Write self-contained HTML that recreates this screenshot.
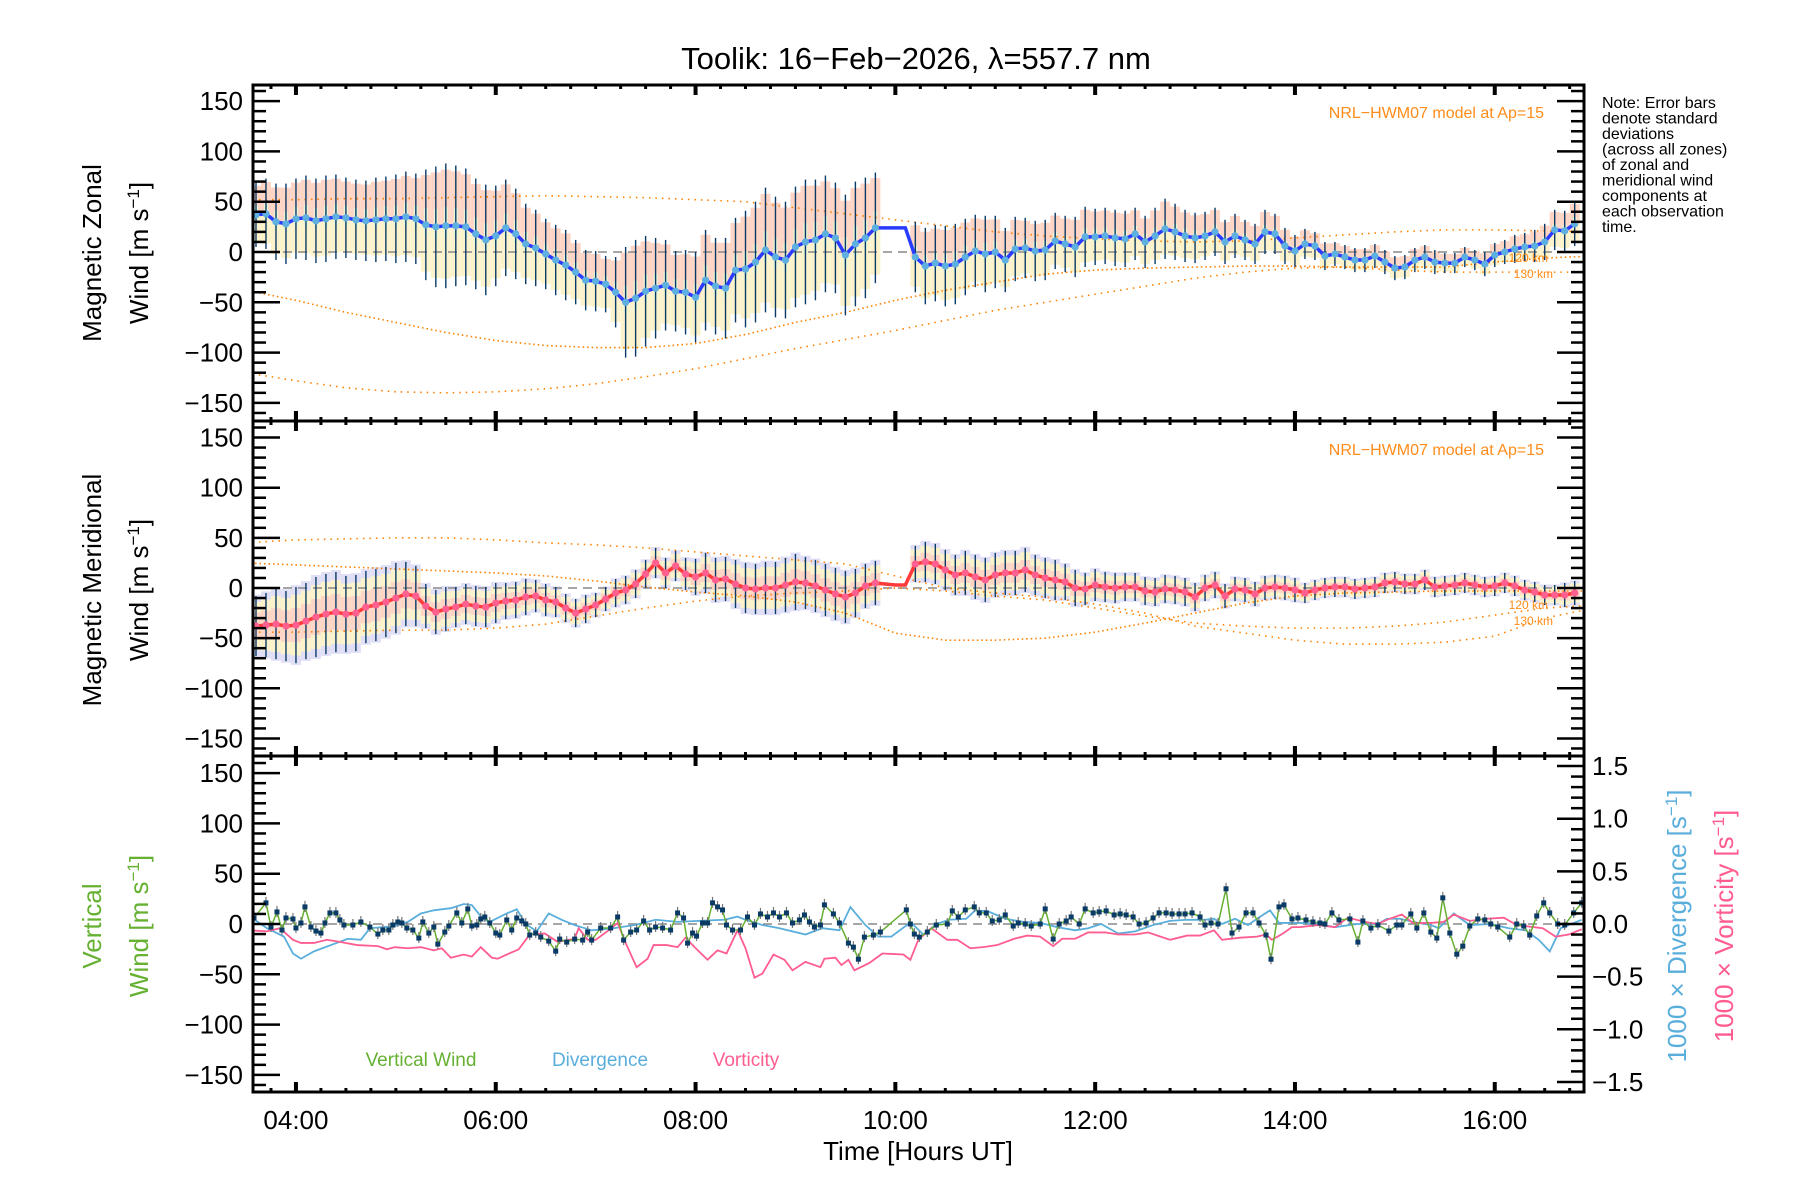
<!DOCTYPE html>
<html><head><meta charset="utf-8"><style>
html,body{margin:0;padding:0;background:#fff;}
svg{display:block;font-family:"Liberation Sans",sans-serif;}
</style></head><body>
<svg id="chart" width="1800" height="1200" viewBox="0 0 1800 1200" xmlns="http://www.w3.org/2000/svg">
<rect x="0" y="0" width="1800" height="1200" fill="#fff"/>
<text x="916" y="69" font-size="31" text-anchor="middle">Toolik: 16−Feb−2026, λ=557.7 nm</text>
<g id="layers"></g>
<g font-size="16" fill="#000">
<text x="1602" y="108">Note: Error bars</text>
<text x="1602" y="123.5">denote standard</text>
<text x="1602" y="139">deviations</text>
<text x="1602" y="154.5">(across all zones)</text>
<text x="1602" y="170">of zonal and</text>
<text x="1602" y="185.5">meridional wind</text>
<text x="1602" y="201">components at</text>
<text x="1602" y="216.5">each observation</text>
<text x="1602" y="232">time.</text>
</g>
<text x="1544" y="118" font-size="16" fill="#ff8c1a" text-anchor="end">NRL−HWM07 model at Ap=15</text>
<text x="1544" y="455" font-size="16" fill="#ff8c1a" text-anchor="end">NRL−HWM07 model at Ap=15</text>
<text x="1548" y="262" font-size="12" fill="#ff8c1a" text-anchor="end">120 km</text>
<text x="1553" y="278" font-size="12" fill="#ff8c1a" text-anchor="end">130 km</text>
<text x="1548" y="609" font-size="12" fill="#ff8c1a" text-anchor="end">120 km</text>
<text x="1553" y="625" font-size="12" fill="#ff8c1a" text-anchor="end">130 km</text>
<text transform="translate(101,253) rotate(-90)" font-size="26" text-anchor="middle">Magnetic Zonal</text>
<text transform="translate(148,253) rotate(-90)" font-size="26" text-anchor="middle">Wind [m s<tspan baseline-shift="super" font-size="17">−1</tspan>]</text>
<text transform="translate(101,590) rotate(-90)" font-size="26" text-anchor="middle">Magnetic Meridional</text>
<text transform="translate(148,590) rotate(-90)" font-size="26" text-anchor="middle">Wind [m s<tspan baseline-shift="super" font-size="17">−1</tspan>]</text>
<text transform="translate(101,926) rotate(-90)" font-size="26" text-anchor="middle" fill="#66b032">Vertical</text>
<text transform="translate(148,926) rotate(-90)" font-size="26" text-anchor="middle" fill="#66b032">Wind [m s<tspan baseline-shift="super" font-size="17">−1</tspan>]</text>
<text transform="translate(1686,926) rotate(-90)" font-size="26" text-anchor="middle" fill="#5aaedc">1000 × Divergence [s<tspan baseline-shift="super" font-size="17">−1</tspan>]</text>
<text transform="translate(1733,926) rotate(-90)" font-size="26" text-anchor="middle" fill="#ff5c8f">1000 × Vorticity [s<tspan baseline-shift="super" font-size="17">−1</tspan>]</text>
<text x="421" y="1066" font-size="19" fill="#66b032" text-anchor="middle">Vertical Wind</text>
<text x="600" y="1066" font-size="19" fill="#5aaedc" text-anchor="middle">Divergence</text>
<text x="746" y="1066" font-size="19" fill="#ff5c8f" text-anchor="middle">Vorticity</text>
<text x="918" y="1160" font-size="26" text-anchor="middle">Time [Hours UT]</text>
</svg>
<script>
// ---- data ----
const zonalMean=[37,38,30,28,33,34,31,33,35,34,32,31,32,33,33,35,33,27,25,26,26,25,18,12,16,24,18,8,4,-2,-8,-13,-20,-28,-29,-32,-40,-50,-46,-39,-36,-33,-39,-40,-45,-28,-34,-36,-18,-17,-10,2,-5,-8,5,10,12,18,14,-3,8,14,24,24,24,24,
-5,-14,-11,-14,-12,-5,1,-2,0,-8,3,4,1,2,11,8,5,15,15,16,14,13,18,10,16,23,20,16,14,16,20,10,16,12,8,20,18,6,1,8,6,-4,-2,-5,-8,-8,-4,-10,-16,-15,-8,-5,-10,-11,-11,-5,-8,-12,-3,0,3,5,6,10,22,21,28];
const zonalStd=[32,35,38,40,40,42,42,43,42,40,40,40,42,42,44,45,45,55,60,62,60,58,55,55,50,48,45,40,38,35,35,35,32,30,30,28,35,55,58,55,50,45,40,42,45,50,48,50,52,58,60,62,60,58,60,62,60,58,55,60,62,60,55,0,0,0,
35,38,38,40,40,38,36,38,36,32,32,30,30,30,28,28,30,30,28,28,28,28,26,26,28,30,28,26,25,24,24,22,22,20,20,22,20,18,16,15,14,14,12,12,12,12,12,12,12,12,12,12,12,10,10,10,10,12,12,12,14,14,16,18,20,20,22];
const meridMean=[-38,-37,-36,-38,-37,-33,-29,-26,-24,-26,-25,-19,-17,-14,-10,-6,-8,-18,-24,-21,-19,-16,-18,-19,-15,-13,-12,-9,-8,-12,-14,-20,-25,-21,-17,-11,-5,-2,4,14,25,15,22,14,11,15,8,9,4,0,-1,0,0,3,6,5,2,-2,-6,-9,-5,2,5,4,3,3,
24,26,24,18,13,15,11,8,13,15,15,18,13,10,8,6,0,-1,3,1,0,1,1,-3,-4,-1,-2,-4,-9,0,3,-8,-1,-2,-6,0,1,0,-2,-5,-2,0,1,1,-1,0,1,5,6,4,4,8,1,2,3,5,3,1,2,5,2,-2,-4,-7,-7,-7,-5];
const meridStd=[30,32,35,35,38,38,40,40,40,38,38,36,36,35,35,32,30,22,22,22,20,20,20,20,20,18,18,18,16,16,15,14,14,14,12,12,14,14,14,14,15,15,15,16,18,20,22,22,24,25,25,26,26,27,28,26,26,26,26,26,24,22,22,0,0,0,
18,20,20,20,20,22,22,22,22,22,22,22,20,20,20,18,18,16,16,15,15,14,14,14,14,14,14,14,14,13,13,12,12,12,12,12,12,12,12,10,10,10,10,10,10,10,10,10,10,10,10,10,10,10,10,10,10,10,10,10,10,10,10,10,10,12,12];
const modelHours=[3.5,4,4.5,5,5.5,6,6.5,7,7.5,8,8.5,9,9.5,10,10.5,11,11.5,12,12.5,13,13.5,14,14.5,15,15.5,16,16.5,17];
const zonalModelA=[52,52,53,53,54,55,56,55,54,52,50,44,38,32,26,20,16,13,11,10,11,14,17,20,22,22,21,20];
const zonalModelB=[-38,-48,-60,-70,-80,-88,-93,-95,-95,-91,-82,-70,-60,-48,-38,-30,-22,-18,-16,-15,-14,-14,-15,-15,-15,-10,-6,-4];
const zonalModelC=[-120,-128,-135,-139,-140,-139,-136,-131,-124,-116,-106,-96,-87,-78,-68,-58,-50,-42,-34,-26,-20,-16,-15,-18,-20,-20,-20,-20];
const meridModelA=[45,48,49,50,50,48,45,43,40,36,32,28,24,12,0,-5,-9,-16,-25,-38,-45,-52,-56,-56,-54,-48,-30,-20];
const meridModelB=[25,23,21,19,17,15,12,7,1,-4,-8,-14,-25,-45,-52,-52,-50,-44,-35,-25,-15,-8,-5,-4,-3,-3,-3,-3];
const meridModelC=[-44,-44,-43,-42,-42,-40,-36,-28,-20,-13,-8,-5,-3,0,-3,-8,-12,-20,-28,-35,-38,-40,-40,-38,-34,-27,-20,-17];
const vertHours=[3.58,3.70,3.75,3.81,3.86,3.90,3.97,4.00,4.05,4.09,4.15,4.20,4.25,4.29,4.34,4.40,4.44,4.48,4.57,4.65,4.74,4.82,4.87,4.93,4.97,5.02,5.06,5.11,5.17,5.23,5.27,5.33,5.38,5.42,5.49,5.53,5.61,5.66,5.72,5.76,5.81,5.85,5.89,5.94,6.00,6.04,6.11,6.16,6.21,6.26,6.30,6.34,6.40,6.45,6.53,6.60,6.64,6.71,6.79,6.87,6.92,6.96,7.05,7.15,7.22,7.28,7.35,7.41,7.48,7.54,7.60,7.67,7.75,7.82,7.88,7.92,7.97,8.01,8.07,8.12,8.17,8.22,8.27,8.31,8.37,8.45,8.52,8.59,8.65,8.72,8.78,8.84,8.91,8.97,9.04,9.09,9.14,9.19,9.25,9.29,9.38,9.44,9.53,9.58,9.63,9.69,9.78,9.85,10.11,
10.15,10.19,10.24,10.32,10.41,10.52,10.57,10.63,10.70,10.79,10.84,10.91,10.97,11.04,11.10,11.18,11.23,11.30,11.36,11.45,11.50,11.58,11.64,11.71,11.76,11.84,11.90,11.98,12.04,12.11,12.19,12.25,12.31,12.38,12.44,12.51,12.58,12.64,12.71,12.77,12.84,12.90,12.97,13.05,13.10,13.16,13.23,13.31,13.37,13.44,13.51,13.58,13.64,13.71,13.76,13.84,13.89,13.97,14.03,14.11,14.18,14.25,14.30,14.37,14.44,14.55,14.63,14.68,14.76,14.83,14.94,15.02,15.07,15.16,15.22,15.29,15.36,15.42,15.48,15.55,15.62,15.68,15.75,15.83,15.90,15.96,16.03,16.15,16.22,16.29,16.35,16.42,16.49,16.55,16.63,16.70,16.79,16.87];
const vertWind=[6,21,-3,12,-6,6,5,-4,1,17,-3,-7,-9,1,11,11,4,-1,-1,2,-3,-10,-6,-6,-1,2,1,-4,-6,-14,2,-9,-3,-20,-8,-2,11,1,15,-2,-1,5,7,1,-9,-11,4,-6,6,3,0,-11,-9,-13,-17,-27,-15,-18,-15,-16,-8,-16,-4,-4,7,-16,-8,-6,3,-6,-3,-4,-6,11,6,-19,-9,-12,1,1,21,17,14,-1,-6,-6,7,-1,10,7,11,7,11,1,4,9,2,-3,-1,19,10,1,-19,-23,-35,-13,-11,-8,14,
0,-10,-13,-8,-1,0,13,7,14,17,11,11,3,4,9,-2,1,0,-2,0,15,-15,0,3,7,0,15,11,12,13,9,10,9,7,0,1,6,11,11,10,10,10,11,7,-1,1,0,35,-9,-3,11,11,1,-11,-35,17,19,5,6,4,2,1,0,11,4,5,-18,3,-4,-1,-7,-1,-1,10,-4,11,-8,-14,26,-9,-30,-22,-2,5,4,0,-3,-13,0,-2,-11,8,21,11,0,-1,11,21];
const divHours=[3.54,3.71,3.88,3.97,4.05,4.18,4.35,4.52,4.65,4.74,4.87,4.99,5.12,5.25,5.38,5.55,5.68,5.76,5.87,5.94,6.11,6.21,6.30,6.41,6.53,6.66,6.79,6.96,7.18,7.39,7.60,7.82,8.03,8.29,8.42,8.50,8.67,8.84,9.10,9.27,9.44,9.55,9.70,9.83,9.96,10.13,
10.15,10.28,10.41,10.54,10.71,10.80,10.93,11.10,11.28,11.45,11.62,11.80,11.93,12.06,12.23,12.40,12.58,12.75,12.92,13.10,13.19,13.27,13.40,13.53,13.62,13.75,13.84,14.05,14.23,14.40,14.62,14.83,14.92,15.05,15.18,15.36,15.44,15.59,15.75,15.96,16.14,16.31,16.44,16.55,16.66,16.87];
const divergence=[0.07,-0.04,-0.12,-0.28,-0.33,-0.26,-0.2,-0.14,-0.15,-0.04,-0.03,-0.02,0.02,0.1,0.13,0.15,0.19,0.18,0.05,0.02,0.1,0.14,0,-0.07,0.1,0.04,-0.01,-0.06,-0.04,-0.01,0.04,0.02,0.03,0.04,0.07,0.04,-0.01,-0.04,-0.1,-0.04,-0.06,0.16,-0.01,-0.12,-0.12,0,
0.02,-0.1,0,0.04,0.05,0.13,0.12,0.05,0.02,0.01,-0.03,-0.06,-0.04,0,-0.09,-0.07,-0.01,0.03,0.04,0.04,0.05,0,0.05,-0.01,0.05,0.13,0.01,0.01,0,-0.03,0,0,0.05,0.05,0.02,-0.01,-0.04,0.1,-0.01,0,-0.04,-0.06,-0.15,-0.26,-0.04,0.04];
const vortHours=[3.54,3.71,3.84,3.97,4.05,4.18,4.31,4.44,4.61,4.82,4.91,4.99,5.12,5.25,5.38,5.46,5.55,5.68,5.76,5.85,5.96,6.02,6.11,6.23,6.34,6.49,6.62,6.79,6.83,6.92,7.00,7.13,7.22,7.30,7.41,7.52,7.58,7.71,7.82,7.90,7.99,8.12,8.22,8.31,8.42,8.50,8.59,8.67,8.78,8.89,8.97,9.10,9.25,9.29,9.40,9.46,9.53,9.59,9.74,9.87,10.08,
10.15,10.23,10.36,10.52,10.62,10.75,10.88,11.02,11.19,11.32,11.45,11.58,11.67,11.80,11.93,12.10,12.23,12.40,12.53,12.75,12.92,13.05,13.19,13.27,13.45,13.62,13.71,13.77,13.88,13.97,14.05,14.23,14.40,14.53,14.70,14.83,14.92,15.07,15.18,15.36,15.49,15.59,15.75,15.92,16.09,16.22,16.48,16.61,16.74,16.87];
const vorticity=[-0.06,-0.07,-0.04,-0.15,-0.18,-0.18,-0.15,-0.17,-0.2,-0.21,-0.24,-0.22,-0.23,-0.22,-0.25,-0.23,-0.32,-0.29,-0.31,-0.22,-0.32,-0.33,-0.29,-0.24,-0.1,-0.09,-0.17,-0.14,-0.04,-0.15,-0.15,-0.06,0.01,-0.18,-0.41,-0.33,-0.2,-0.2,-0.22,-0.13,-0.22,-0.34,-0.25,-0.28,-0.06,-0.23,-0.51,-0.47,-0.29,-0.34,-0.44,-0.36,-0.41,-0.33,-0.32,-0.39,-0.34,-0.44,-0.37,-0.28,-0.29,
-0.34,-0.15,-0.04,-0.15,-0.15,-0.23,-0.22,-0.2,-0.14,-0.11,-0.12,-0.21,-0.14,-0.14,-0.08,-0.08,-0.1,-0.1,-0.08,-0.15,-0.11,-0.11,-0.06,-0.15,-0.13,-0.12,-0.1,-0.15,-0.09,-0.03,-0.03,-0.01,-0.03,0.06,0.02,0,0.04,0.09,0.01,0.01,0.02,0.09,0.03,0.05,0.06,-0.01,-0.04,-0.12,-0.1,-0.05];
const leftTicks=["150","100","50","0","−50","−100","−150"];
const rightTicks=["1.5","1.0","0.5","0.0","−0.5","−1.0","−1.5"];
const xTickLabels=["04:00","06:00","08:00","10:00","12:00","14:00","16:00"];

// ---- layout ----
const NS="http://www.w3.org/2000/svg";
const X0=253,X1=1584,H0=3.57,PXH=99.9;
const panels=[{top:85,bot:421,zero:252},{top:421,bot:756,zero:588},{top:756,bot:1092,zero:924}];
const xS=h=>X0+(h-H0)*PXH;
const yS=(p,v)=>panels[p].zero-v*(panels[p].bot-panels[p].top)/334;
const yR=v=>924-v*105.3;
const root=document.getElementById('layers');
function mk(tag,attrs,parent){const e=document.createElementNS(NS,tag);for(const k in attrs)e.setAttribute(k,attrs[k]);(parent||root).appendChild(e);return e;}
const defs=mk('defs',{});
panels.forEach((p,i)=>{const c=mk('clipPath',{id:'clip'+i},defs);mk('rect',{x:X0,y:p.top,width:X1-X0,height:p.bot-p.top},c);});
const times=zonalMean.map((_,i)=>3.6+i*0.1);

function windPanel(pi,mean,std,lineCol,dotCol,mA,mB,mC,isZonal){
  const g=mk('g',{'clip-path':'url(#clip'+pi+')'});
  
  
  const sh=mk('g',{opacity:0.75},g);
  
  
  times.forEach((t,i)=>{ if(!std[i])return; const x=xS(t)-5;
    if(isZonal){
      mk('rect',{x:x,y:yS(pi,mean[i]+std[i]*0.9),width:10,height:std[i]*0.9,fill:'#ffc8b4'},sh);
      mk('rect',{x:x,y:yS(pi,mean[i]),width:10,height:std[i]*0.85,fill:'#fcf0bc'},sh);
      mk('rect',{x:x+3,y:yS(pi,mean[i]+std[i]*0.3),width:4,height:std[i]*0.5,fill:'#dff3cc'},sh);
    } else {
      mk('rect',{x:x,y:yS(pi,mean[i]+std[i]*1.05),width:10,height:std[i]*2.1,fill:'#d8d5f4'},sh);
      mk('rect',{x:x,y:yS(pi,mean[i]+std[i]*0.8),width:10,height:std[i]*1.6,fill:'#fcf0bc'},sh);
      mk('rect',{x:x,y:yS(pi,mean[i]+std[i]*0.45),width:10,height:std[i]*0.9,fill:'#ffc8b4'},sh);
    }
  });
  const z=mk('line',{x1:X0,x2:X1,y1:yS(pi,0),y2:yS(pi,0),stroke:'#888','stroke-width':1.5,'stroke-dasharray':'9 6'},g);
  
  
  [[mA,'1.5 5'],[mB,'1.5 3'],[mC,'1.5 5']].forEach((m,k)=>{
    const pl=mk('polyline',{points:modelHours.map((h,j)=>xS(h)+','+yS(pi,m[0][j])).join(' '),fill:'none',stroke:'#ff8000','stroke-width':1.6,'stroke-dasharray':m[1]},g);
    
    
  });
  const eb=mk('g',{stroke:'#0a3a66','stroke-width':1.4},g);
  
  
  times.forEach((t,i)=>{ if(!std[i])return; mk('line',{x1:xS(t),x2:xS(t),y1:yS(pi,mean[i]+std[i]),y2:yS(pi,mean[i]-std[i])},eb);});
  const ml=mk('polyline',{points:times.map((t,i)=>xS(t)+','+yS(pi,mean[i])).join(' '),fill:'none',stroke:lineCol,'stroke-width':3.5},g);
  
  
  const dg=mk('g',{fill:dotCol},g);
  
  
  times.forEach((t,i)=>{ if(!std[i])return; mk('circle',{cx:xS(t),cy:yS(pi,mean[i]),r:3.6},dg);});
}
windPanel(0,zonalMean,zonalStd,'#2a3cff','#5eb0e0',zonalModelA,zonalModelB,zonalModelC,true);
windPanel(1,meridMean,meridStd,'#ff3a3a','#ff6090',meridModelA,meridModelB,meridModelC,false);

{
  const g=mk('g',{'clip-path':'url(#clip2)'});
  
  
  const z=mk('line',{x1:X0,x2:X1,y1:924,y2:924,stroke:'#888','stroke-width':1.5,'stroke-dasharray':'9 6'},g);
  
  
  const dv=mk('polyline',{points:divHours.map((h,i)=>xS(h)+','+yR(divergence[i])).join(' '),fill:'none',stroke:'#5aaedc','stroke-width':1.8},g);
  
  
  const vo=mk('polyline',{points:vortHours.map((h,i)=>xS(h)+','+yR(vorticity[i])).join(' '),fill:'none',stroke:'#ff5c8f','stroke-width':1.8},g);
  
  
  const vw=mk('polyline',{points:vertHours.map((h,i)=>xS(h)+','+yS(2,vertWind[i])).join(' '),fill:'none',stroke:'#66b032','stroke-width':1.5},g);
  
  
  const eb=mk('g',{stroke:'#777','stroke-width':1.2},g);
  
  
  const mg=mk('g',{fill:'#0a3a66'},g);
  
  
  vertHours.forEach((h,i)=>{const x=xS(h),y=yS(2,vertWind[i]);
    mk('line',{x1:x,x2:x,y1:y-6,y2:y+5},eb);
    mk('rect',{x:x-2.5,y:y-2.5,width:5,height:5},mg);});
}

const ax=mk('g',{stroke:'#000',fill:'none'});


panels.forEach((p,pi)=>{
  for(let v=-160;v<=160;v+=10){const y=yS(pi,v); if(y<p.top+1||y>p.bot-1)continue;
    const L=(v%50===0)?27:13;
    mk('line',{x1:X0,x2:X0+L,y1:y,y2:y,'stroke-width':2.5},ax);
    if(pi<2) mk('line',{x1:X1,x2:X1-L,y1:y,y2:y,'stroke-width':2.5},ax);}
  leftTicks.forEach((s,k)=>{const v=150-k*50;
    const t=mk('text',{x:243,y:yS(pi,v)+9,'font-size':26,'text-anchor':'end',fill:'#000',stroke:'none'});
    t.textContent=s;
    
    });
  for(let h=3.75;h<=16.8;h+=0.25){const x=xS(h);const maj=Math.abs(h/2-Math.round(h/2))<0.01;
    const L=maj?10:4;
    mk('line',{x1:x,x2:x,y1:p.top,y2:p.top+L,'stroke-width':maj?4:3},ax);
    mk('line',{x1:x,x2:x,y1:p.bot,y2:p.bot-L,'stroke-width':maj?4:3},ax);
    if(pi>0&&maj) mk('line',{x1:x,x2:x,y1:p.top,y2:p.top-10,'stroke-width':4},ax);}
  mk('rect',{x:X0,y:p.top,width:X1-X0,height:p.bot-p.top,'stroke-width':3},ax);
});
for(let v=-15;v<=15;v++){const y=yR(v/10);const L=(v%5===0)?27:13;
  mk('line',{x1:X1,x2:X1-L,y1:y,y2:y,'stroke-width':2.5},ax);}
rightTicks.forEach((s,k)=>{const v=1.5-k*0.5;
  const t=mk('text',{x:1592,y:yR(v)+9,'font-size':26,fill:'#000',stroke:'none'});
  t.textContent=s;
  
  });
xTickLabels.forEach((s,k)=>{const h=4+k*2;
  const t=mk('text',{x:xS(h),y:1129,'font-size':26,'text-anchor':'middle',fill:'#000',stroke:'none'});
  t.textContent=s;
  
  });
</script>
</body></html>
